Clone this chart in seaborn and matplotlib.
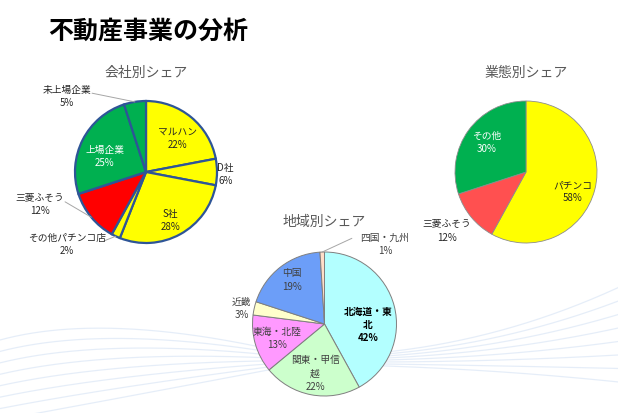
import numpy as np
import matplotlib
matplotlib.use("Agg")
import matplotlib.pyplot as plt
import seaborn as sns

# ---------------- data ----------------
title = "不動産事業の分析"

company_title = "会社別シェア"
company_labels = ["マルハン", "D社", "S社", "その他パチンコ店", "三菱ふそう", "上場企業", "未上場企業"]
company_values = [22, 6, 28, 2, 12, 25, 5]

business_title = "業態別シェア"
business_labels = ["パチンコ", "三菱ふそう", "その他"]
business_values = [58, 12, 30]

region_title = "地域別シェア"
region_labels = ["北海道・東\n北", "関東・甲信\n越", "東海・北陸", "近畿", "中国", "四国・九州"]
region_values = [42, 22, 13, 3, 19, 1]

# ---------------- style ----------------
company_colors = ["#FFFF00", "#FFFF00", "#FFFF00", "#FFFF00", "#FF0000", "#00B050", "#00B050"]
business_colors = ["#FFFF00", "#FF5050", "#00B050"]
region_colors = ["#B3FFFF", "#CCFFCC", "#FF99FF", "#FFFFCC", "#6C9EF8", "#FFDDC8"]

sns.set_theme(style="white")
plt.rcParams["font.family"] = ["Noto Sans CJK JP", "DejaVu Sans"]

W, H = 618, 413
fig = plt.figure(figsize=(W / 100, H / 100), dpi=100)
fig.patch.set_facecolor("white")

# decorative background curves
bg = fig.add_axes([0, 0, 1, 1], zorder=0)
bg.set_xlim(0, W)
bg.set_ylim(H, 0)
bg.axis("off")
t = np.linspace(0, 1, 200)[:, None]
n_curves = 8
for k in range(n_curves):
    f = k / (n_curves - 1)
    yL = 340 + 80 * f
    yM = 356 + 8 * f
    yR = 283 + 100 * f
    p0 = np.array([0, yL]); c1 = np.array([110, yL - 30 + 10 * f]); p1 = np.array([300, yM])
    segA = (1 - t) ** 2 * p0 + 2 * (1 - t) * t * c1 + t ** 2 * p1
    c2 = np.array([470, yM + 2]); p2 = np.array([W + 10, yR])
    segB = (1 - t) ** 2 * p1 + 2 * (1 - t) * t * c2 + t ** 2 * p2
    pts = np.vstack([segA, segB])
    bg.plot(pts[:, 0], pts[:, 1], color="#E3ECF8", lw=0.9, alpha=0.9)

fig.text(48 / W, 1 - 32 / H, title, fontsize=18, fontweight="bold",
         color="black", va="center", ha="left")


def pie_axes(cx, cy, r):
    ax = fig.add_axes([(cx - r) / W, (H - cy - r) / H, 2 * r / W, 2 * r / H], zorder=2)
    return ax


def draw_pie(cx, cy, r, values, colors, edge, lw, labels, label_pos, text_colors,
             bold, leaders, subtitle, sub_y):
    ax = pie_axes(cx, cy, r)
    wedges, _ = ax.pie(values, colors=colors, startangle=90, counterclock=False,
                       radius=1, wedgeprops=dict(edgecolor=edge, linewidth=lw))
    for w in wedges:
        w.set_clip_on(False)
    ax.set_xlim(-1, 1)
    ax.set_ylim(-1, 1)
    ax.set_aspect("equal")
    ax.axis("off")
    total = sum(values)
    start = 90.0
    for i, (lab, v) in enumerate(zip(labels, values)):
        ang = start - 360.0 * v / total / 2
        start -= 360.0 * v / total
        x, y = label_pos[i]
        ax.text(x, y, f"{lab}\n{v}%", ha="center", va="center", fontsize=7,
                color=text_colors[i], fontweight="bold" if bold[i] else "normal",
                linespacing=1.4)
        if leaders[i] is not None:
            ex, ey = np.cos(np.radians(ang)), np.sin(np.radians(ang))
            lx, ly = leaders[i]
            ax.plot([ex, lx], [ey, ly], color="#A6A6A6", lw=0.7, clip_on=False)
    fig.text(cx / W, 1 - sub_y / H, subtitle, fontsize=10, color="#595959",
             ha="center", va="center")


D = "#262626"
G = "#404040"
draw_pie(146, 172, 71, company_values, company_colors, "#2E5597", 1.6, company_labels,
         [(0.44, 0.48), (1.12, -0.03), (0.34, -0.68), (-1.11, -1.02),
          (-1.49, -0.46), (-0.58, 0.22), (-1.11, 1.06)],
         [D, D, D, D, D, "white", D], [False] * 7,
         [None, None, None, (-0.59, -0.97), (-1.14, -0.42), None, (-0.76, 1.11)],
         company_title, 73)

draw_pie(526, 172, 71, business_values, business_colors, "#8C8C8C", 0.6, business_labels,
         [(0.66, -0.28), (-1.11, -0.83), (-0.55, 0.41)],
         [D, D, "white"], [False] * 3, [None, None, None],
         business_title, 73)

draw_pie(324.5, 324, 72, region_values, region_colors, "#7F7F7F", 0.7, region_labels,
         [(0.60, -0.01), (-0.13, -0.69), (-0.66, -0.20), (-1.15, 0.21),
          (-0.45, 0.61), (0.84, 1.11)],
         ["black", G, G, G, G, G], [True, False, False, False, False, False],
         [None, None, None, None, None, (0.38, 1.19)],
         region_title, 222)

fig.savefig("out.png", dpi=100)
